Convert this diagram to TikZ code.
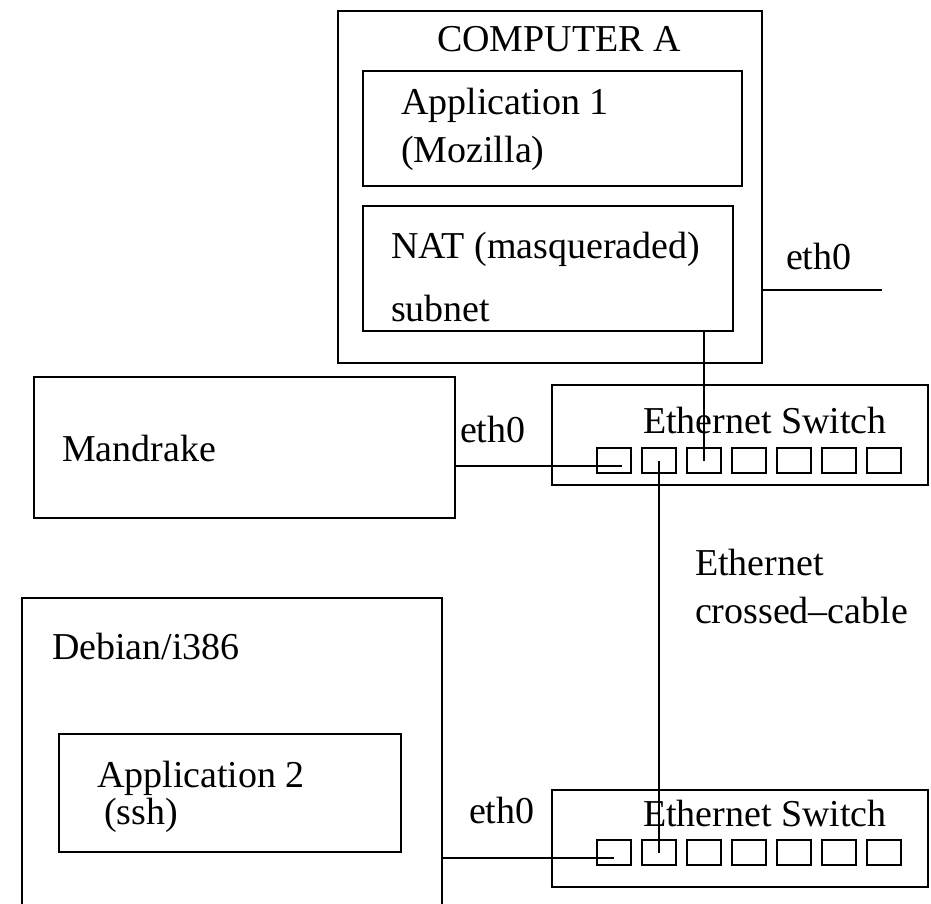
\documentclass[tikz,border=0pt]{standalone}
\usepackage{fontspec}
\setmainfont{Liberation Serif}
\begin{document}
\begin{tikzpicture}[x=1pt,y=-1pt,
  box/.style={draw,line width=2.6pt,inner sep=0pt,outer sep=0pt,anchor=north west},
  port/.style={draw,line width=1.8pt,inner sep=0pt,outer sep=0pt,anchor=north west,minimum width=34pt,minimum height=25pt},
  wire/.style={line width=2pt},
  lbl/.style={inner sep=0pt,outer sep=0pt,font=\fontsize{38}{42}\selectfont}]
\useasboundingbox[fill=white] (0,0) rectangle (931,904);
% boxes
\node[box,minimum width=424pt,minimum height=352pt] (compA) at (338,11) {};
\node[box,minimum width=379pt,minimum height=115pt] (app1) at (363,71) {};
\node[box,minimum width=370pt,minimum height=125pt] (nat) at (363,206) {};
\node[box,minimum width=421pt,minimum height=141pt] (mandrake) at (34,377) {};
\node[box,minimum width=376pt,minimum height=100pt] (sw1) at (552,385) {};
\node[box,minimum width=420pt,minimum height=320pt] (debian) at (22,598) {};
\node[box,minimum width=342pt,minimum height=118pt] (app2) at (59,734) {};
\node[box,minimum width=376pt,minimum height=97pt] (sw2) at (552,790) {};
% ports
\foreach \i in {1,...,7}{
  \node[port] (s1p\i) at ({597+45*(\i-1)},448) {};
  \node[port] (s2p\i) at ({597+45*(\i-1)},840) {};
}
% labels
\node[lbl,anchor=base] (tcompA) at (559,52) {COMPUTER A};
\node[lbl,anchor=base west] (tapp1) at (401,115) {Application 1};
\node[lbl,anchor=base west] (tmoz) at (401,163) {(Mozilla)};
\node[lbl,anchor=base west] (tnat) at (391,258) {NAT (masqueraded)};
\node[lbl,anchor=base west] (tsub) at (391,321) {subnet};
\node[lbl,anchor=base west] (teth1) at (786,269) {eth0};
\node[lbl,anchor=base west] (tmand) at (62,461) {Mandrake};
\node[lbl,anchor=base west] (teth2) at (460,442) {eth0};
\node[lbl,anchor=base west] (tsw1) at (643,433) {Ethernet Switch};
\node[lbl,anchor=base west] (tether) at (695,575) {Ethernet};
\node[lbl,anchor=base west] (tcross) at (695,623) {crossed--cable};
\node[lbl,anchor=base west] (tdeb) at (52,659) {Debian/i386};
\node[lbl,anchor=base west] (tapp2) at (97,787) {Application 2};
\node[lbl,anchor=base west] (tssh) at (104,824) {(ssh)};
\node[lbl,anchor=base west] (teth3) at (469,823) {eth0};
\node[lbl,anchor=base west] (tsw2) at (643,826) {Ethernet Switch};
% connectors
\coordinate (ethend) at (882,290);
\draw[wire] (compA.east |- ethend) -- (ethend);
\draw[wire] (nat.south -| s1p3.center) -- (s1p3.center);
\draw[wire] ([yshift=-5pt]s1p1.center -| mandrake.east) -- ([xshift=8pt,yshift=-5pt]s1p1.center);
\draw[wire] (s1p2.center) -- (s2p2.center);
\draw[wire] ([yshift=-5pt]s2p1.center -| debian.east) -- ([yshift=-5pt]s2p1.center);
\end{tikzpicture}
\end{document}
